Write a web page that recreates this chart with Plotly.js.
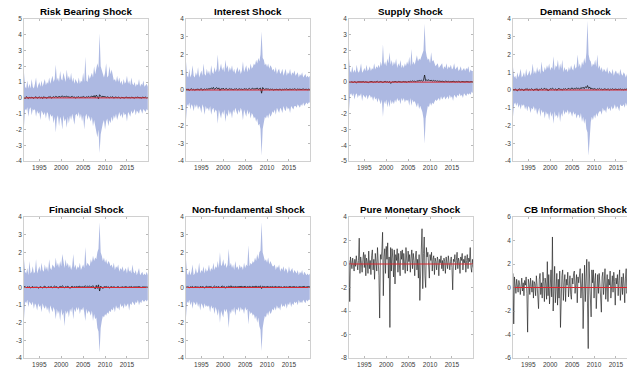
<!DOCTYPE html>
<html>
<head>
<meta charset="utf-8">
<script src="https://cdn.plot.ly/plotly-3.0.1.min.js"></script>
<style>
  html, body { margin: 0; padding: 0; background: #fff; overflow: hidden; }
  #chart { width: 640px; height: 376px; }
</style>
</head>
<body>
<div id="chart"></div>
<script>
// ---- Sample timing: quarterly bands for panels 1-6, bi-monthly series for panels 7-8
const START_YEAR = 1991.5;
const END_YEAR = 2019.8;
const QUARTER = 0.25;
const BIMONTH = 1 / 6;

// ---- Tick labels
const yearTicks = [1995, 2000, 2005, 2010, 2015];
const yTicksA = [-4, -3, -2, -1, 0, 1, 2, 3, 4, 5];
const yTicksB = [-4, -3, -2, -1, 0, 1, 2, 3, 4];
const yTicksC = [-5, -4, -3, -2, -1, 0, 1, 2, 3, 4];
const yTicksD = [-8, -6, -4, -2, 0, 2, 4];
const yTicksE = [-6, -4, -2, 0, 2, 4, 6];
const referenceLevel = 0;

// ---- Risk bearing shock
const riskUpper = [1.6,0.7,0.6,1.1,0.6,0.9,0.6,1.2,0.7,0.6, 0.9,1.3,0.6,0.8,1.0,0.7,1.1,0.7,0.9,1.2,
  0.8,1.0,0.9,1.3,0.9,1.1,1.4,1.0,1.2,2.1, 1.1,1.3,1.0,1.7,1.2,1.1,1.6,1.3,1.0,1.8,
  1.2,1.4,1.1,1.6,1.0,1.3,0.9,1.2,1.0,0.9, 1.3,0.9,1.1,1.0,1.6,1.0,2.6,1.1,1.0,1.5,
  1.2,1.4,1.6,1.3,2.0,1.5,1.8,2.2,1.9,4.1, 2.0,1.8,1.5,1.3,1.6,2.2,1.3,1.4,2.0,1.5,
  1.8,1.3,1.1,1.2,1.0,1.4,1.0,1.3,0.9,1.1, 0.8,1.2,0.9,1.0,1.4,0.9,1.1,0.8,1.3,0.9,
  0.8,1.0,0.7,0.9,0.8,1.2,0.7,0.9,0.8,1.1, 0.7,0.8,0.9,0.7];
const riskLower = [-1.8,-0.7,-0.8,-0.6,-1.2,-0.7,-0.6,-1.1,-0.7,-0.8, -0.7,-1.2,-0.8,-1.0,-0.9,-1.4,-0.8,-1.0,-1.1,-0.9,
  -1.3,-0.9,-1.0,-1.5,-1.0,-1.2,-1.1,-1.6,-1.2,-2.2, -1.3,-1.1,-1.8,-1.2,-1.4,-2.0,-1.1,-1.5,-1.3,-1.9,
  -1.2,-1.6,-1.1,-1.4,-1.0,-1.3,-1.7,-1.1,-1.0,-1.2, -0.9,-1.3,-1.0,-1.5,-1.1,-2.0,-1.2,-1.0,-1.4,-1.1,
  -1.3,-1.5,-1.2,-1.8,-1.4,-1.7,-2.1,-2.5,-2.0,-3.5, -2.3,-1.9,-1.6,-1.4,-2.0,-1.5,-1.3,-1.8,-1.4,-1.6,
  -1.2,-1.5,-1.1,-1.3,-1.0,-1.4,-1.1,-0.9,-1.2,-1.0, -1.3,-0.9,-1.1,-1.0,-1.5,-0.9,-1.0,-1.2,-0.8,-1.0,
  -0.9,-0.7,-1.1,-0.8,-0.9,-1.0,-0.7,-0.8,-1.0,-0.7, -0.8,-0.9,-0.7,-0.8];
const riskMedian = [0.02,-0.05,0.08,0.03,-0.04,0.06,-0.02,0.05,0.01,-0.03, 0.04,0.07,-0.02,0.03,0.06,0.00,0.05,-0.04,0.08,0.02,
  0.03,-0.03,0.06,0.04,0.09,-0.02,0.05,0.08,0.03,0.10, 0.06,0.02,0.11,0.04,0.08,0.13,0.05,0.09,0.07,0.12,
  0.04,0.08,0.02,0.06,0.10,0.03,0.07,-0.02,0.05,0.04, 0.08,0.01,0.06,0.03,0.09,0.05,0.02,0.07,0.04,0.10,
  0.03,0.08,0.12,0.05,0.15,0.02,0.18,0.08,-0.06,0.20, 0.10,0.04,0.12,0.06,0.09,0.02,0.07,0.05,0.01,0.06,
  0.03,0.08,-0.02,0.04,0.06,0.00,0.05,0.03,-0.03,0.04, 0.02,0.05,-0.01,0.06,0.03,0.00,0.04,-0.02,0.05,0.02,
  0.03,-0.01,0.04,0.02,0.06,0.00,0.03,-0.02,0.04,0.01, 0.02,0.05,0.00,0.03];

// ---- Interest shock
const interestUpper = [1.6,0.8,0.7,1.2,0.7,0.9,1.4,0.8,0.7,1.0, 0.8,1.3,0.7,0.9,1.1,0.8,1.5,0.9,0.8,1.2,
  0.9,1.1,0.8,1.4,1.0,0.9,1.3,1.0,1.2,2.0, 1.0,1.2,1.5,1.1,1.3,1.0,1.7,1.2,1.4,1.0,
  1.3,1.1,1.4,1.0,1.2,0.9,1.1,1.3,1.0,1.2, 0.9,1.1,1.6,1.0,1.2,1.4,1.0,1.3,1.1,1.5,
  1.2,1.3,1.5,1.4,1.7,1.5,1.8,1.6,2.0,3.3, 1.8,1.7,1.4,1.5,1.3,1.5,1.2,1.4,1.3,1.1,
  1.2,1.0,1.3,0.9,1.1,1.2,0.9,1.0,1.2,0.8, 1.0,1.2,0.8,1.0,0.9,1.2,0.8,1.0,0.9,1.1,
  0.8,0.9,1.0,0.7,0.9,0.8,1.0,0.7,0.8,0.9, 0.7,0.8,0.7,0.8];
const interestLower = [-1.7,-0.8,-0.9,-0.7,-1.1,-0.8,-0.9,-1.2,-0.8,-1.0, -0.8,-1.1,-0.9,-1.0,-1.3,-0.8,-1.0,-1.4,-0.9,-1.1,
  -1.0,-1.2,-0.9,-1.4,-1.1,-1.0,-1.3,-1.1,-1.2,-1.9, -1.1,-1.3,-1.6,-1.2,-1.4,-1.1,-1.8,-1.3,-1.5,-1.1,
  -1.4,-1.2,-1.6,-1.1,-1.3,-1.0,-1.2,-1.4,-1.1,-1.3, -1.0,-1.2,-1.7,-1.1,-1.3,-1.5,-1.1,-1.4,-1.2,-1.6,
  -1.3,-1.4,-1.6,-1.5,-1.8,-1.6,-2.0,-1.9,-2.2,-3.7, -2.2,-1.8,-1.5,-1.6,-1.4,-1.6,-1.3,-1.5,-1.4,-1.2,
  -1.3,-1.1,-1.4,-1.0,-1.2,-1.3,-1.0,-1.1,-1.3,-0.9, -1.1,-1.2,-0.9,-1.1,-1.0,-1.3,-0.9,-1.0,-1.1,-0.9,
  -0.9,-1.0,-0.8,-0.9,-1.0,-0.8,-0.9,-0.7,-0.9,-0.8, -0.7,-0.8,-0.7,-0.7];
const interestMedian = [0.05,0.02,0.06,-0.03,0.04,0.07,0.01,0.05,-0.02,0.04, 0.03,0.06,0.00,0.05,0.08,-0.01,0.04,0.06,0.02,0.07,
  0.03,0.09,0.04,0.12,0.06,0.15,0.03,0.10,0.14,0.05, 0.12,-0.02,0.08,0.04,0.11,0.02,0.06,0.09,0.01,0.05,
  0.08,0.03,0.07,0.00,0.06,0.04,0.08,0.02,0.05,0.07, 0.03,0.06,0.01,0.08,0.04,0.07,0.02,0.05,0.09,0.03,
  0.06,0.10,0.04,0.08,0.05,0.12,0.03,0.09,0.11,-0.18, 0.14,0.06,0.02,0.08,0.04,0.07,0.01,0.05,0.03,0.06,
  -0.02,0.04,0.02,0.05,0.00,0.03,0.06,-0.01,0.04,0.02, 0.05,0.03,0.07,0.01,0.04,0.06,0.02,0.05,0.03,0.07,
  0.04,0.01,0.06,0.03,0.05,0.02,0.04,0.06,0.03,0.05, 0.04,0.02,0.05,0.03];

// ---- Supply shock
const supplyUpper = [1.5,0.7,0.6,1.0,0.6,0.8,0.6,1.1,0.7,0.6, 0.8,1.2,0.6,0.7,0.9,0.7,1.1,0.7,0.8,1.0,
  0.7,0.9,0.8,1.2,0.8,1.0,0.9,1.1,0.9,1.3, 1.0,2.4,1.1,1.3,1.0,1.5,1.2,1.9,1.1,1.4,
  1.0,1.3,1.1,1.5,0.9,1.2,1.0,1.4,0.9,1.1, 0.9,1.2,1.0,1.3,1.1,1.6,1.0,2.1,1.1,1.3,
  1.1,1.4,1.7,1.3,1.5,1.4,1.6,1.9,2.0,3.7, 2.0,1.6,1.4,1.5,1.2,1.9,1.3,1.4,1.2,1.0,
  1.1,1.2,0.9,1.0,1.1,1.2,0.8,1.0,0.9,1.2, 0.8,1.0,0.9,1.1,0.8,0.9,1.2,0.8,0.9,1.0,
  0.7,0.8,1.0,0.7,0.8,0.9,0.7,0.9,0.8,1.0, 0.6,0.8,0.7,0.7];
const supplyLower = [-1.8,-0.8,-0.7,-0.9,-0.7,-1.1,-0.8,-0.7,-1.0,-0.8, -0.9,-0.7,-1.2,-0.8,-0.9,-1.0,-0.8,-1.1,-0.9,-0.8,
  -1.0,-0.9,-1.2,-0.9,-1.1,-1.0,-1.3,-1.0,-1.2,-1.4, -1.1,-2.2,-1.2,-1.4,-1.1,-1.6,-1.2,-1.6,-1.1,-1.4,
  -1.2,-1.4,-1.1,-1.3,-1.0,-1.2,-1.1,-1.4,-1.0,-1.2, -1.0,-1.3,-1.1,-1.2,-1.1,-1.5,-1.0,-1.5,-1.1,-1.3,
  -1.2,-1.4,-1.6,-1.3,-1.7,-1.5,-1.7,-1.9,-2.3,-3.9, -2.3,-1.8,-1.5,-1.6,-1.3,-1.5,-1.3,-1.4,-1.2,-1.1,
  -1.2,-1.1,-1.0,-1.2,-0.9,-1.1,-1.0,-0.9,-1.1,-1.0, -0.9,-1.1,-0.8,-1.0,-0.9,-1.2,-0.8,-0.9,-1.0,-0.8,
  -0.9,-0.7,-0.9,-0.8,-1.0,-0.7,-0.8,-0.9,-0.7,-0.8, -0.7,-0.8,-0.6,-0.7];
const supplyMedian = [0.00,-0.03,0.02,0.01,-0.02,0.03,0.00,-0.04,0.02,0.01, 0.03,-0.02,0.01,0.04,-0.01,0.02,0.00,0.03,-0.03,0.02,
  0.01,0.04,-0.02,0.02,0.00,0.03,0.05,-0.01,0.02,0.04, 0.01,-0.03,0.02,0.05,0.00,0.03,-0.02,0.04,-0.08,0.01,
  0.03,0.00,0.05,0.02,-0.01,0.04,0.01,0.03,0.00,0.02, 0.04,0.01,0.03,-0.02,0.05,0.02,0.06,0.03,0.08,0.04,
  0.06,0.02,0.09,0.05,0.11,0.07,0.12,0.06,0.10,0.45, 0.08,0.14,0.10,0.15,0.08,0.12,0.06,0.11,0.07,0.09,
  0.05,0.08,0.04,0.07,0.03,0.06,0.05,0.02,0.06,0.04, 0.03,0.05,0.01,0.04,0.02,0.06,0.03,0.01,0.04,0.02,
  0.05,0.03,0.00,0.04,0.02,0.03,0.01,0.04,0.02,0.03, 0.01,0.03,0.02,0.01];

// ---- Demand shock
const demandUpper = [1.3,0.7,0.8,0.6,1.0,0.7,0.9,1.2,0.7,0.8, 1.0,0.7,1.2,0.8,0.9,1.1,0.8,1.0,1.5,0.9,
  1.1,0.9,1.3,1.0,1.2,0.9,1.6,1.1,1.0,1.3, 1.1,1.4,1.2,1.5,1.1,1.3,1.2,1.9,1.1,1.4,
  1.3,1.7,1.1,1.5,1.2,1.7,1.0,1.3,1.1,1.2, 1.0,1.3,1.1,1.4,1.2,1.1,1.5,1.2,1.3,2.0,
  1.3,1.5,1.2,1.6,1.4,1.8,1.5,2.1,3.9,2.0, 1.7,1.6,1.3,1.5,1.4,1.7,1.3,2.0,1.2,1.4,
  1.1,1.3,1.0,1.2,1.1,1.0,1.3,0.9,1.1,1.0, 0.9,1.2,0.8,1.0,1.1,0.9,1.0,0.8,1.2,0.9,
  0.8,1.0,0.9,0.7,0.9,0.8,1.0,0.7,0.9,0.8, 0.7,0.9,0.7,0.8];
const demandLower = [-1.5,-0.8,-0.7,-0.9,-0.7,-1.0,-0.8,-1.1,-0.8,-0.9, -0.8,-1.1,-0.9,-1.2,-0.9,-1.0,-1.3,-1.0,-1.1,-0.9,
  -1.2,-1.0,-1.4,-1.1,-1.0,-1.5,-1.1,-1.3,-1.2,-1.6, -1.2,-1.4,-1.3,-1.7,-1.2,-1.5,-1.3,-1.9,-1.2,-1.5,
  -1.4,-1.6,-1.2,-1.8,-1.3,-1.5,-1.1,-1.4,-1.2,-1.3, -1.1,-1.4,-1.2,-1.3,-1.5,-1.2,-1.4,-1.3,-1.6,-1.4,
  -1.4,-1.6,-1.3,-1.8,-1.5,-1.9,-1.6,-2.2,-2.4,-3.7, -2.3,-1.8,-1.5,-1.7,-1.4,-1.6,-1.3,-1.5,-1.3,-1.2,
  -1.2,-1.4,-1.0,-1.2,-1.1,-1.3,-0.9,-1.1,-1.0,-1.2, -0.9,-1.1,-1.0,-0.8,-1.1,-0.9,-1.0,-1.2,-0.8,-0.9,
  -0.9,-0.8,-1.0,-0.7,-0.9,-0.8,-0.9,-0.7,-0.8,-0.9, -0.7,-0.8,-0.7,-0.7];
const demandMedian = [0.04,-0.02,0.06,0.01,-0.05,0.03,0.07,-0.01,0.05,0.02, -0.04,0.06,0.03,0.08,-0.02,0.05,0.01,0.07,0.03,-0.03,
  0.06,0.02,0.08,-0.04,0.05,0.03,0.09,0.01,0.06,0.10, 0.02,0.07,-0.05,0.04,0.08,0.03,0.11,0.05,0.01,0.07,
  -0.02,0.06,0.09,0.03,0.05,-0.01,0.07,0.04,0.08,0.02, 0.06,0.10,0.03,0.07,0.12,0.04,0.09,0.05,0.13,0.06,
  0.10,0.04,0.14,0.08,0.16,0.07,0.18,0.12,0.25,0.09, 0.17,0.05,0.11,0.03,0.08,0.06,0.02,0.07,0.04,0.09,
  0.03,0.06,0.01,0.05,0.07,0.02,0.04,0.06,0.00,0.05, 0.03,0.07,0.02,0.04,0.06,0.01,0.05,0.03,0.06,0.02,
  0.04,0.01,0.05,0.03,0.06,0.02,0.04,0.01,0.05,0.03, 0.02,0.04,0.01,0.03];

// ---- Financial shock
const financialUpper = [1.6,0.9,0.8,1.1,0.7,1.5,0.8,0.9,1.2,0.8, 0.9,1.6,0.8,1.0,1.2,0.9,1.4,1.0,0.9,1.3,
  1.0,1.2,0.9,1.6,1.1,1.0,1.3,1.2,1.1,1.7, 1.2,1.4,1.1,1.5,1.2,1.9,1.3,1.1,1.6,1.2,
  1.4,1.1,1.3,1.0,1.2,1.9,1.1,1.3,1.0,1.2, 1.1,1.4,1.0,1.2,1.3,1.1,2.3,1.2,1.4,1.3,
  1.2,1.6,1.4,1.8,1.5,1.7,1.6,2.0,2.2,3.7, 2.0,1.8,1.5,1.7,1.4,1.6,1.3,1.5,1.4,1.2,
  1.3,1.1,1.4,1.0,1.2,1.1,1.3,0.9,1.1,1.0, 1.2,0.9,1.0,1.1,0.8,1.2,0.9,1.0,0.8,1.3,
  0.9,0.8,1.0,0.7,0.9,1.1,0.7,0.8,0.9,0.7, 0.8,0.7,0.9,0.7];
const financialLower = [-1.8,-0.8,-0.9,-0.7,-1.1,-0.8,-0.9,-1.0,-0.8,-1.2, -0.9,-1.0,-1.3,-0.9,-1.1,-1.0,-1.4,-0.9,-1.1,-1.2,
  -1.0,-1.3,-1.1,-1.5,-1.0,-1.2,-1.4,-1.1,-1.3,-1.8, -1.2,-1.5,-1.3,-1.9,-1.2,-1.6,-1.4,-2.2,-1.3,-1.5,
  -1.3,-1.7,-1.2,-1.4,-1.1,-1.8,-1.2,-1.4,-1.1,-1.3, -1.1,-1.5,-1.2,-1.3,-1.1,-1.4,-1.9,-1.2,-1.5,-1.3,
  -1.4,-1.6,-1.3,-1.9,-1.5,-1.8,-1.7,-2.3,-2.5,-3.7, -2.3,-1.9,-1.6,-1.7,-1.5,-1.6,-1.4,-1.5,-1.3,-1.4,
  -1.2,-1.3,-1.1,-1.4,-1.0,-1.2,-1.1,-1.3,-0.9,-1.1, -1.0,-1.2,-0.9,-1.1,-1.0,-0.9,-1.3,-0.9,-1.0,-0.8,
  -0.9,-1.0,-0.8,-0.9,-0.7,-1.0,-0.8,-0.9,-0.7,-0.8, -0.8,-0.7,-0.8,-0.7];
const financialMedian = [0.03,0.06,-0.02,0.04,0.01,0.05,-0.03,0.02,0.06,-0.01, 0.03,0.00,0.04,-0.04,0.02,0.05,0.01,-0.02,0.04,0.07,
  0.02,-0.03,0.05,0.01,0.03,0.06,-0.02,0.04,0.08,0.02, 0.05,-0.04,0.03,0.07,0.01,0.10,0.04,-0.02,0.06,0.02,
  0.08,0.03,-0.05,0.04,0.07,0.01,0.05,0.02,0.06,0.03, 0.04,0.07,0.01,0.05,0.02,0.06,0.09,0.03,0.07,0.04,
  0.08,0.02,0.06,0.10,0.04,-0.08,0.12,-0.05,0.15,-0.20, 0.08,0.03,-0.06,0.05,0.02,0.06,0.01,0.04,-0.02,0.03,
  0.05,0.01,0.04,0.02,-0.01,0.03,0.05,0.00,0.03,0.02, 0.04,0.01,0.03,0.05,0.02,0.00,0.04,0.02,0.06,0.01,
  0.03,0.02,0.04,0.01,0.03,0.05,0.02,0.00,0.03,0.02, 0.04,0.01,0.03,0.02];

// ---- Non-fundamental shock
const nonfundUpper = [1.6,0.8,0.7,1.0,0.7,0.9,1.3,0.7,0.8,1.1, 0.8,0.9,1.4,0.8,1.0,0.9,1.2,0.8,1.1,0.9,
  1.0,1.3,0.9,1.1,1.0,1.4,1.0,1.2,1.1,1.5, 1.1,2.0,1.2,1.3,1.6,1.2,1.4,1.1,1.3,2.2,
  1.2,1.4,1.1,1.3,1.0,1.5,1.1,1.2,1.0,1.3, 1.1,1.2,1.0,1.4,1.1,1.3,1.2,2.4,1.2,1.4,
  1.3,1.5,1.4,1.7,1.5,1.9,1.6,2.0,2.1,3.7, 2.0,1.8,1.5,1.6,1.4,1.7,1.3,1.5,1.3,1.2,
  1.2,1.3,1.0,1.2,1.1,1.3,0.9,1.1,1.0,1.2, 0.9,1.1,1.0,0.8,1.2,0.9,1.0,1.1,0.8,1.0,
  0.9,0.8,1.0,0.7,0.9,0.8,1.0,0.7,0.9,0.8, 0.7,0.8,0.7,0.8];
const nonfundLower = [-1.7,-0.8,-0.9,-0.7,-1.0,-0.8,-1.2,-0.8,-0.9,-1.0, -0.8,-1.1,-0.9,-1.3,-0.9,-1.0,-1.2,-0.9,-1.1,-1.0,
  -1.1,-1.0,-1.4,-1.0,-1.2,-1.1,-1.5,-1.1,-1.3,-1.6, -1.2,-2.0,-1.3,-1.5,-1.7,-1.2,-1.4,-1.2,-1.5,-2.3,
  -1.3,-1.5,-1.2,-1.4,-1.1,-1.6,-1.2,-1.3,-1.1,-1.4, -1.1,-1.3,-1.2,-1.5,-1.1,-1.3,-1.2,-2.1,-1.3,-1.5,
  -1.4,-1.6,-1.5,-1.8,-1.6,-2.0,-1.7,-2.2,-2.4,-3.6, -2.3,-1.9,-1.6,-1.7,-1.4,-1.6,-1.3,-1.5,-1.4,-1.2,
  -1.3,-1.1,-1.3,-1.0,-1.2,-1.1,-1.3,-0.9,-1.1,-1.0, -1.1,-0.9,-1.2,-0.9,-1.0,-0.8,-1.1,-0.9,-1.0,-0.8,
  -0.9,-0.8,-1.0,-0.7,-0.9,-0.8,-0.9,-0.7,-0.8,-0.9, -0.7,-0.8,-0.7,-0.7];
const nonfundMedian = [0.03,0.01,0.05,-0.02,0.04,0.02,0.06,0.00,0.03,0.05, 0.01,0.04,-0.01,0.06,0.02,0.05,0.03,-0.02,0.04,0.07,
  0.01,0.05,0.03,0.06,-0.03,0.04,0.08,0.02,0.05,0.01, 0.06,-0.02,0.04,0.09,0.03,0.06,-0.04,0.05,0.02,0.07,
  0.03,0.10,0.01,0.05,0.02,0.06,0.03,0.04,0.01,0.05, 0.03,0.06,0.02,0.04,0.07,0.01,0.05,0.03,0.06,0.04,
  0.02,0.07,0.03,0.05,0.08,0.02,0.06,0.04,0.09,-0.06, 0.07,0.03,0.05,0.01,0.06,0.04,0.02,0.05,0.03,0.06,
  0.02,0.04,0.06,0.01,0.03,0.05,0.02,0.04,0.00,0.03, 0.05,0.02,0.04,0.01,0.03,0.06,0.02,0.04,0.03,0.05,
  0.02,0.04,0.01,0.03,0.05,0.02,0.04,0.03,0.06,0.02, 0.04,0.03,0.05,0.04];

// ---- Pure monetary shock (bi-monthly)
const pureMonetary = [0.3,-3.2,0.6,0.2,-0.4,0.5,0.1,-0.6,0.4,-0.2, 0.7,0.2,-0.5,0.3,2.2,-0.8,0.6,0.1,-0.7,0.4,
  1.0,-0.3,0.8,-1.0,0.5,0.2,-0.8,1.1,-0.4,0.3, -0.9,0.7,1.2,-0.5,0.4,-1.3,0.9,0.2,-0.6,1.4,
  0.3,-1.0,-4.6,0.8,0.4,1.1,2.7,-2.7,0.6,1.3, -0.8,1.5,0.4,1.8,-1.2,0.6,-5.4,1.4,-0.6,1.3,
  0.5,-1.1,1.2,-1.7,0.8,0.3,1.3,-0.7,0.9,0.2, -1.0,1.1,0.4,1.2,-0.5,0.9,0.3,-0.8,1.4,0.6,
  -0.6,1.1,0.2,0.8,-0.7,0.5,1.2,-0.4,0.9,0.3, -1.0,0.6,1.1,-0.5,0.4,-1.2,0.8,-3.1,0.5,1.2,
  3.0,-2.1,0.9,2.3,-1.0,-2.0,1.4,0.6,1.0,-0.7, -1.2,0.8,0.3,1.0,-0.6,0.4,0.7,-0.9,0.5,0.2,
  -0.5,0.6,0.3,-1.0,0.4,0.1,0.7,-0.4,0.3,-0.6, 0.5,0.2,-0.8,0.6,0.1,-0.4,0.7,0.3,-0.5,0.2,
  0.6,-0.3,-2.2,0.4,0.2,0.8,-0.5,0.3,1.0,-0.4, 0.5,0.2,-0.8,0.6,0.3,0.9,-0.5,0.4,0.1,0.7,
  -0.7,0.3,0.8,-0.4,0.5,0.2,1.4,-0.3,-0.7,0.4, -0.3];

// ---- CB information shock (bi-monthly)
const cbInformation = [1.2,-3.1,0.9,0.4,-0.5,0.7,0.2,-0.4,0.6,0.3, -0.6,0.5,0.8,-0.3,0.4,-0.7,0.6,0.2,0.9,-0.5,
  -3.8,0.7,0.3,-0.6,0.8,0.1,-0.4,0.6,-0.9,0.5, 0.3,-0.7,1.0,0.2,-0.5,-1.8,0.7,1.2,-0.6,0.4,
  -0.9,1.3,0.5,-1.2,0.8,0.3,-1.0,2.2,-0.7,1.1, -1.4,0.6,1.5,-0.8,4.3,-2.0,0.9,1.8,-1.3,0.5,
  1.2,-1.5,0.7,-0.9,1.4,-3.4,0.6,1.0,1.5,-1.1, 0.4,1.1,-1.2,0.7,0.2,1.3,-0.8,0.5,1.0,-0.6,
  -1.0,0.8,0.3,1.2,1.4,-0.5,0.6,1.1,-1.3,0.9, 0.4,1.3,1.6,-0.9,0.7,1.2,-3.5,0.8,1.9,-1.2,
  0.6,2.4,-1.4,-5.2,2.2,0.9,-0.7,-2.5,1.5,0.4, 1.5,-0.9,0.6,1.2,-1.8,0.7,1.1,-0.5,1.2,0.3,
  -0.8,-2.1,0.9,1.3,-0.6,0.5,1.6,-1.0,0.4,1.1, -1.2,0.7,0.2,1.4,-0.9,0.6,1.0,-0.4,1.3,0.5,
  -1.5,0.8,0.3,1.1,-0.7,0.6,1.5,-1.1,0.4,0.9, -0.6,1.2,0.3,-1.3,0.8,1.6,-0.5,0.4,1.0,-0.9,
  0.6,1.3,-0.7,0.2,1.1,-1.2,0.5,0.8,-0.4,0.3, -0.2];

// ---- Date axes
const quarterDates = riskUpper.map((_, i) => START_YEAR + i * QUARTER);
const bimonthDates = pureMonetary.map((_, i) => START_YEAR + i * BIMONTH);

// ---- Panel definitions
const panels = [
  { title: 'Risk Bearing Shock', upper: riskUpper, lower: riskLower, median: riskMedian, yTicks: yTicksA },
  { title: 'Interest Shock', upper: interestUpper, lower: interestLower, median: interestMedian, yTicks: yTicksB },
  { title: 'Supply Shock', upper: supplyUpper, lower: supplyLower, median: supplyMedian, yTicks: yTicksC },
  { title: 'Demand Shock', upper: demandUpper, lower: demandLower, median: demandMedian, yTicks: yTicksB },
  { title: 'Financial Shock', upper: financialUpper, lower: financialLower, median: financialMedian, yTicks: yTicksB },
  { title: 'Non-fundamental Shock', upper: nonfundUpper, lower: nonfundLower, median: nonfundMedian, yTicks: yTicksB },
  { title: 'Pure Monetary Shock', median: pureMonetary, yTicks: yTicksD },
  { title: 'CB Information Shock', median: cbInformation, yTicks: yTicksE }
];

// ---- Grid geometry (pixels of a 640x376 figure; the window shows its left 627 px)
const FIG_W = 640, FIG_H = 376;
const colLeft = [24, 186, 349, 513];
const PLOT_W = 124;
const rowTop = [19, 217];
const rowBottom = [161, 358];

const BAND = '#adb9e2';
const AXIS_LINE = '#c4c4c4';
const TICK_TEXT = '#3a3a3a';
const FONT = 'Liberation Sans, Arial, Helvetica, sans-serif';

const traces = [];
const layout = {
  width: FIG_W, height: FIG_H,
  margin: { l: 0, r: 0, t: 0, b: 0 },
  paper_bgcolor: '#ffffff', plot_bgcolor: '#ffffff',
  showlegend: false,
  font: { family: FONT, size: 7, color: TICK_TEXT },
  annotations: []
};

panels.forEach((p, k) => {
  const n = k + 1;
  const xa = n === 1 ? 'x' : 'x' + n;
  const ya = n === 1 ? 'y' : 'y' + n;
  const col = k % 4, row = Math.floor(k / 4);
  const x0 = colLeft[col] / FIG_W, x1 = (colLeft[col] + PLOT_W) / FIG_W;
  const y0 = 1 - rowBottom[row] / FIG_H, y1 = 1 - rowTop[row] / FIG_H;
  const dates = p.upper ? quarterDates : bimonthDates;

  if (p.upper) {
    traces.push({ x: dates, y: p.lower, xaxis: xa, yaxis: ya, type: 'scatter', mode: 'lines',
      line: { width: 0, color: BAND }, hoverinfo: 'skip' });
    traces.push({ x: dates, y: p.upper, xaxis: xa, yaxis: ya, type: 'scatter', mode: 'lines',
      fill: 'tonexty', fillcolor: BAND, line: { width: 0, color: BAND }, hoverinfo: 'skip' });
  }
  traces.push({ x: dates, y: p.median, xaxis: xa, yaxis: ya, type: 'scatter', mode: 'lines',
    line: { width: p.upper ? 0.8 : 0.65, color: p.upper ? '#151515' : '#202020' } });
  traces.push({ x: [START_YEAR, END_YEAR], y: [referenceLevel, referenceLevel], xaxis: xa, yaxis: ya,
    type: 'scatter', mode: 'lines', line: { width: 1, color: '#d9262e' } });

  const yt = p.yTicks;
  layout['xaxis' + (n === 1 ? '' : n)] = {
    domain: [x0, x1], anchor: ya, range: [START_YEAR, END_YEAR],
    tickvals: yearTicks, ticktext: yearTicks.map(String),
    ticks: 'inside', ticklen: 2, tickcolor: '#8a8a8a', tickwidth: 0.6,
    showline: true, linecolor: AXIS_LINE, linewidth: 0.8, mirror: 'ticks',
    showgrid: false, zeroline: false, tickfont: { size: 6.5, color: TICK_TEXT, family: FONT }
  };
  layout['yaxis' + (n === 1 ? '' : n)] = {
    domain: [y0, y1], anchor: xa, range: [yt[0], yt[yt.length - 1]],
    tickvals: yt, ticktext: yt.map(String),
    ticks: 'inside', ticklen: 2, tickcolor: '#8a8a8a', tickwidth: 0.6,
    showline: true, linecolor: AXIS_LINE, linewidth: 0.8, mirror: 'ticks',
    showgrid: false, zeroline: false, tickfont: { size: 6.5, color: TICK_TEXT, family: FONT }
  };
  layout.annotations.push({
    text: '<b>' + p.title + '</b>', xref: 'paper', yref: 'paper',
    x: (x0 + x1) / 2, y: y1, xanchor: 'center', yanchor: 'bottom', yshift: 0,
    showarrow: false, font: { family: FONT, size: 9.8, color: '#000000' }
  });
});

Plotly.newPlot('chart', traces, layout, { staticPlot: true, displayModeBar: false });
</script>
</body>
</html>
